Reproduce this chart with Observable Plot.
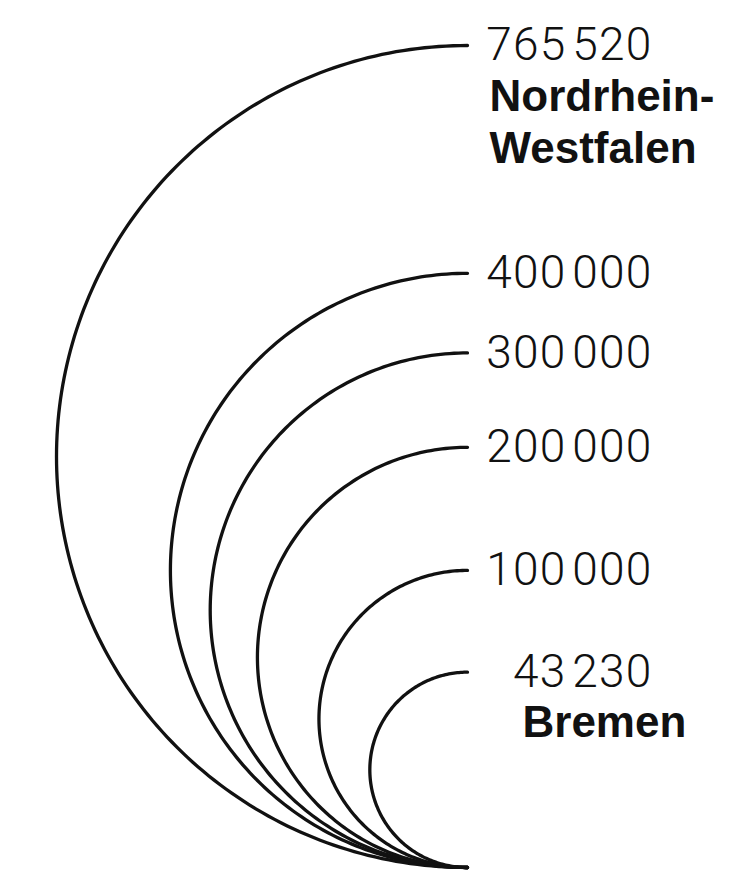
<!DOCTYPE html>
<html><head><meta charset="utf-8">
<script src="https://cdn.jsdelivr.net/npm/d3@7"></script>
<script src="https://cdn.jsdelivr.net/npm/@observablehq/plot@0.6"></script>
<style>body{margin:0;background:#fff} g[font-weight="300"] text{letter-spacing:1.2px}</style>
</head><body><div id="chart"></div>
<script>
// Data
const values = [765520, 400000, 300000, 200000, 100000, 43230];
const valueLabels = ["765\u200A520", "400\u200A000", "300\u200A000", "200\u200A000", "100\u200A000", "43\u200A230"];
const names = ["Nordrhein-\nWestfalen", "", "", "", "", "Bremen"];

const W = 729, H = 873;
const yTopPx = 45, yBottomPx = 867, xEndPx = 467;
const maxD = Math.sqrt(d3.max(values));
const k = (yBottomPx - yTopPx) / maxD;

// semicircles: diameter proportional to sqrt(value), all touching at the bottom
const arcs = values.flatMap((v, i) => {
  const r = Math.sqrt(v) / 2;
  return d3.range(0, 181).map(a => {
    const t = a * Math.PI / 180;
    return {id: i, x: -r * Math.sin(t), y: r + r * Math.cos(t)};
  });
});
const labels = values.map((v, i) => ({x: 0, y: Math.sqrt(v), num: valueLabels[i], name: names[i], i}));

const chart = Plot.plot({
  width: W, height: H,
  marginLeft: 0, marginRight: 0, marginTop: yTopPx, marginBottom: H - yBottomPx,
  x: {domain: [-xEndPx / k, (W - xEndPx) / k], axis: null},
  y: {domain: [0, maxD], axis: null},
  marks: [
    Plot.line(arcs, {x: "x", y: "y", z: "id", stroke: "#111", strokeWidth: 3.3, curve: "linear"}),
    Plot.text(labels, {x: "x", y: "y", text: "num", textAnchor: "end", dx: 185,
      fontSize: 46, fontWeight: 300, fontFamily: "Roboto, 'Liberation Sans', sans-serif", fill: "#111"}),
    Plot.text(labels.filter(d => d.i === 0), {x: "x", y: "y", text: "name", textAnchor: "start", dx: 22, dy: 29,
      lineAnchor: "top", lineHeight: 52/44,
      fontSize: 44, fontWeight: "bold", fontFamily: "'Liberation Sans', Arial, sans-serif", fill: "#111"}),
    Plot.text(labels.filter(d => d.i === values.length - 1), {x: "x", y: "y", text: "name", textAnchor: "start", dx: 55, dy: 28,
      lineAnchor: "top", lineHeight: 52/44,
      fontSize: 44, fontWeight: "bold", fontFamily: "'Liberation Sans', Arial, sans-serif", fill: "#111"})
  ]
});
document.getElementById("chart").append(chart);
</script>
</body></html>
